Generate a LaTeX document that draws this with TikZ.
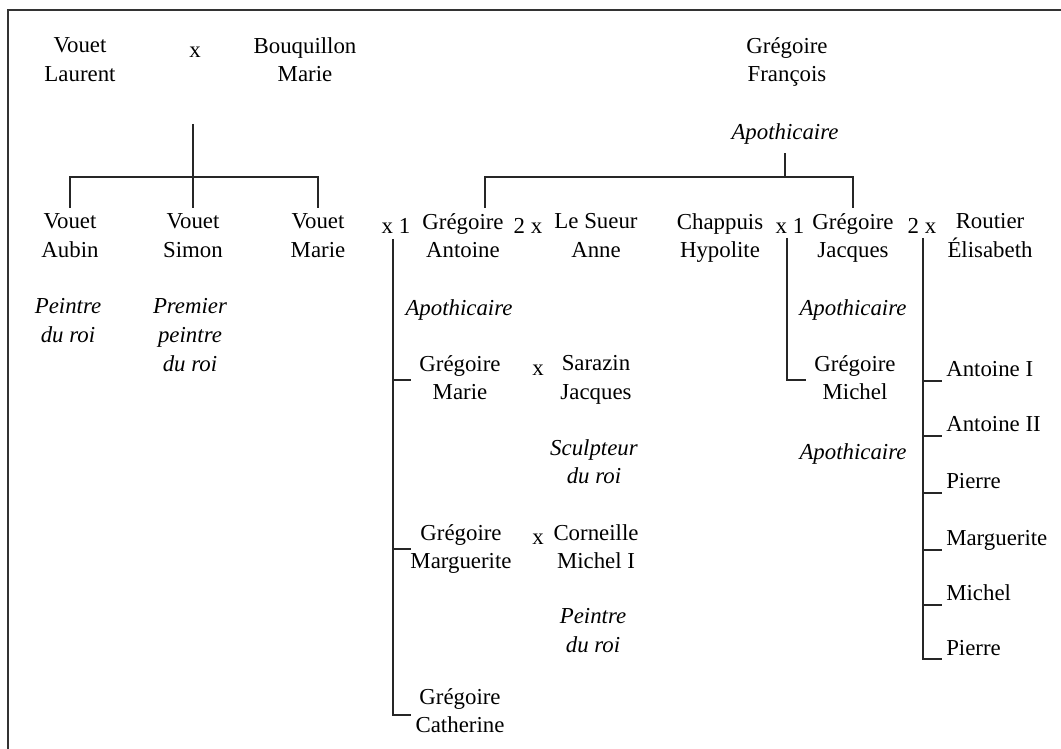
\documentclass[tikz,border=0pt]{standalone}
\usepackage{fontspec}
\setmainfont{Liberation Serif}
\usepackage{tikz}
\usetikzlibrary{calc}
\tikzstyle{tsPerson} = [
    text=black,
    font=\fontsize{13pt}{16.4pt}\selectfont,
    align=center,
    anchor=north,
    inner sep=3pt,
    outer sep=0pt,
    execute at begin node=\strut
]
\tikzstyle{tsJob} = [
    tsPerson,
    font=\fontsize{13pt}{16.4pt}\selectfont\itshape
]
\tikzstyle{tsChild} = [
    tsPerson,
    align=left,
    anchor=north west
]
\tikzstyle{tsLine} = [
    draw=black!85,
    line width=0.7pt
]
\tikzstyle{tsFrame} = [
    draw=black!80,
    line width=1.1pt
]

\begin{document}
\begin{tikzpicture}[x=0.02cm, y=-0.02cm]
        \useasboundingbox (0,0) rectangle (1061,749);
        \draw[tsFrame] (1061,10) -- (8,10) -- (8,749);

        % Define nodes (placed by their top edge)
        \node[tsPerson] (laurent) at (80,32) {Vouet\\Laurent};
        \node[tsPerson] (xTop) at (195,32) {x};
        \node[tsPerson] (bouquillon) at (305,32) {Bouquillon\\Marie};
        \node[tsPerson] (francois) at (787,32) {Grégoire\\François};
        \node[tsJob] (apoF) at (785,114) {Apothicaire};

        \node[tsPerson] (aubin) at (70,208) {Vouet\\Aubin};
        \node[tsPerson] (simon) at (193,208) {Vouet\\Simon};
        \node[tsPerson] (vmarie) at (318,208) {Vouet\\Marie};
        \node[tsJob] (jobAubin) at (68,293) {Peintre\\du roi};
        \node[tsJob] (jobSimon) at (190,293) {Premier\\peintre\\du roi};

        \node[tsPerson] (xa) at (396,208) {x 1};
        \node[tsPerson] (antoine) at (463,208) {Grégoire\\Antoine};
        \node[tsPerson] (xb) at (528,208) {2 x};
        \node[tsPerson] (anne) at (596,208) {Le Sueur\\Anne};
        \node[tsPerson] (chappuis) at (720,208) {Chappuis\\Hypolite};
        \node[tsPerson] (xc) at (790,208) {x 1};
        \node[tsPerson] (jacques) at (853,208) {Grégoire\\Jacques};
        \node[tsPerson] (xd) at (922,208) {2 x};
        \node[tsPerson] (routier) at (990,208) {Routier\\Élisabeth};

        \node[tsJob] (apoA) at (459,290) {Apothicaire};
        \node[tsPerson] (gmarie) at (460,350) {Grégoire\\Marie};
        \node[tsPerson] (xe) at (538,350) {x};
        \node[tsPerson] (sarazin) at (596,350) {Sarazin\\Jacques};
        \node[tsJob] (jobSarazin) at (594,434) {Sculpteur\\du roi};
        \node[tsPerson] (gmarg) at (461,519) {Grégoire\\Marguerite};
        \node[tsPerson] (xf) at (538,519) {x};
        \node[tsPerson] (corneille) at (596,519) {Corneille\\Michel I};
        \node[tsJob] (jobCorneille) at (593,603) {Peintre\\du roi};
        \node[tsPerson] (gcath) at (460,683) {Grégoire\\Catherine};

        \node[tsJob] (apoJ) at (853,290) {Apothicaire};
        \node[tsPerson] (gmichel) at (855,350) {Grégoire\\Michel};
        \node[tsJob] (apoM) at (853,434) {Apothicaire};

        \node[tsChild] (antI) at (941,351) {Antoine I};
        \node[tsChild] (antII) at (941,406) {Antoine II};
        \node[tsChild] (pierreA) at (941,463) {Pierre};
        \node[tsChild] (margR) at (941,520) {Marguerite};
        \node[tsChild] (michelR) at (941,575) {Michel};
        \node[tsChild] (pierreB) at (941,630) {Pierre};

        % Lines
        \coordinate (vouetKnot) at (193,124);
        \draw[tsLine] (vouetKnot) -- (simon.north);
        \draw[tsLine] (aubin.north) -- ++(0,-31) -| (vmarie.north);

        \coordinate (francoisBar) at (485,177);
        \draw[tsLine] (apoF.south) -- (apoF.south |- francoisBar);
        \draw[tsLine] (francoisBar |- antoine.north) -- (francoisBar) -| (jacques.north);

        \coordinate (antStem) at (393,239);
        \draw[tsLine] (antStem) |- ($(gcath.north -| antStem)+(18,32)$);
        \draw[tsLine] ($(gmarie.north -| antStem)+(0,30)$) -- ++(18,0);
        \draw[tsLine] ($(gmarg.north -| antStem)+(0,30)$) -- ++(18,0);

        \coordinate (jacStem) at (787,238);
        \draw[tsLine] (jacStem) |- ($(gmichel.north -| jacStem)+(19,30)$);

        \coordinate (rouStem) at (923,238);
        \draw[tsLine] (rouStem) |- ($(pierreB.north -| rouStem)+(19,29)$);
        \draw[tsLine] ($(antI.north -| rouStem)+(0,30)$) -- ++(19,0);
        \draw[tsLine] ($(antII.north -| rouStem)+(0,30)$) -- ++(19,0);
        \draw[tsLine] ($(pierreA.north -| rouStem)+(0,30)$) -- ++(19,0);
        \draw[tsLine] ($(margR.north -| rouStem)+(0,30)$) -- ++(19,0);
        \draw[tsLine] ($(michelR.north -| rouStem)+(0,30)$) -- ++(19,0);

    \end{tikzpicture}
\end{document}
